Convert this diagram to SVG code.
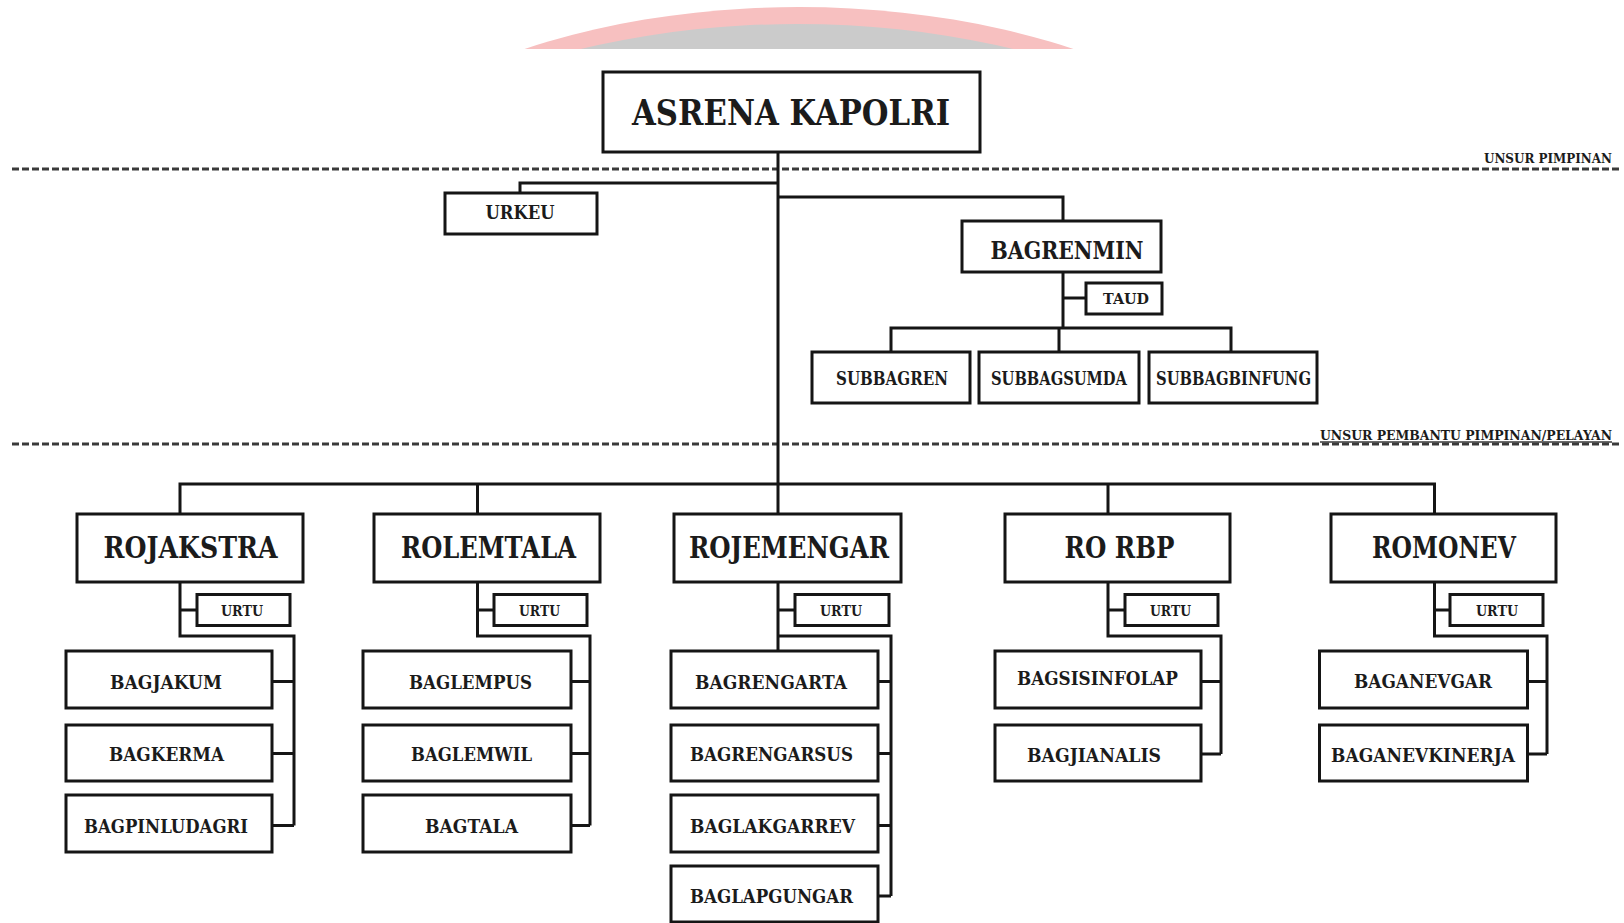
<svg xmlns="http://www.w3.org/2000/svg" width="1624" height="923" viewBox="0 0 1624 923">
<style>
.box{fill:#fff;stroke:#151515;stroke-width:3}
.ln{fill:none;stroke:#151515;stroke-width:3}
.dash{fill:none;stroke:#3a3a3a;stroke-width:3;stroke-dasharray:7 3}
text{font-family:"DejaVu Serif","Liberation Serif",serif;font-weight:bold;fill:#1b1b1b;text-anchor:middle}
.t1{font-size:36px}
.t2{font-size:30px}
.t3{font-size:19px}
.t4{font-size:14px}
.lab{font-size:12px;text-anchor:start}
</style>
<defs>
<clipPath id="topclip"><rect x="0" y="0" width="1624" height="49"/></clipPath>
<linearGradient id="grayfade" x1="0" y1="0" x2="1" y2="0">
<stop offset="0" stop-color="#cbcbcb" stop-opacity="0.7"/><stop offset="0.25" stop-color="#cbcbcb"/><stop offset="0.75" stop-color="#cbcbcb"/><stop offset="1" stop-color="#cbcbcb" stop-opacity="0.7"/>
</linearGradient>
</defs>
<rect width="1624" height="923" fill="#fff"/>
<g id="banner" clip-path="url(#topclip)">
<ellipse cx="799" cy="300" rx="532" ry="293" fill="#f7c0c0"/>
<ellipse cx="797" cy="300" rx="520" ry="276" fill="url(#grayfade)"/>
</g>
<g id="dividers">
<line class="dash" x1="12" y1="169" x2="1620" y2="169"/>
<line class="dash" x1="12" y1="444" x2="1620" y2="444"/>
<text class="lab" x="1484" y="163" textLength="128" lengthAdjust="spacingAndGlyphs">UNSUR PIMPINAN</text>
<text class="lab" x="1320" y="440" textLength="292" lengthAdjust="spacingAndGlyphs">UNSUR  PEMBANTU PIMPINAN/PELAYAN</text>
<line x1="1320" y1="442" x2="1612" y2="442" stroke="#3a3a3a" stroke-width="1.5"/>
</g>
<g id="connectors">
<path class="ln" d="M778 152V484"/>
<path class="ln" d="M778 183H520V193"/>
<path class="ln" d="M778 197H1063V221"/>
<path class="ln" d="M1063 272V328"/>
<path class="ln" d="M1063 298H1086"/>
<path class="ln" d="M891 352V328H1231V352M1059 328V352"/>
<path class="ln" d="M180 514V484H1434.5V514M477.5 484V514M778 484V514M1108 484V514"/>
<path class="ln" d="M180 582V636H294V825.5M180 610H197M272 681.5H294M272 753.5H294M272 825.5H294"/>
<path class="ln" d="M477.5 582V636H590V825.5M477.5 610H494M571 681.5H590M571 753.5H590M571 825.5H590"/>
<path class="ln" d="M778 582V651M778 636H891V896M778 610H795M878 681.5H891M878 753.5H891M878 825.5H891M878 896H891"/>
<path class="ln" d="M1108 582V636H1221V754M1108 610H1125M1201 681.5H1221M1201 754H1221"/>
<path class="ln" d="M1434.5 582V636H1547V754M1434.5 610H1450M1527 681.5H1547M1527 754H1547"/>
</g>
<g id="asrena"><rect class="box" x="603" y="72" width="377" height="80"/><text class="t1" x="791" y="125" textLength="318" lengthAdjust="spacingAndGlyphs">ASRENA KAPOLRI</text></g>
<g id="urkeu"><rect class="box" x="445" y="193" width="152" height="41"/><text class="t3" x="520" y="219" textLength="69" lengthAdjust="spacingAndGlyphs">URKEU</text></g>
<g id="bagrenmin"><rect class="box" x="962" y="221" width="199" height="51"/><text style="font-size:24px" x="1067" y="259" textLength="153" lengthAdjust="spacingAndGlyphs">BAGRENMIN</text></g>
<g id="taud"><rect class="box" x="1086" y="283" width="76" height="31"/><text style="font-size:15px" x="1126" y="304" textLength="46" lengthAdjust="spacingAndGlyphs">TAUD</text></g>
<g id="subbagren"><rect class="box" x="812" y="352" width="158" height="51"/><text style="font-size:18px" x="892" y="385" textLength="112" lengthAdjust="spacingAndGlyphs">SUBBAGREN</text></g>
<g id="subbagsumda"><rect class="box" x="979" y="352" width="160" height="51"/><text style="font-size:18px" x="1059" y="385" textLength="136" lengthAdjust="spacingAndGlyphs">SUBBAGSUMDA</text></g>
<g id="subbagbinfung"><rect class="box" x="1149" y="352" width="168" height="51"/><text style="font-size:18px" x="1233.5" y="385" textLength="155" lengthAdjust="spacingAndGlyphs">SUBBAGBINFUNG</text></g>

<g id="rojakstra"><rect class="box" x="77" y="514" width="226" height="68"/><text class="t2" x="190.5" y="558" textLength="174" lengthAdjust="spacingAndGlyphs">ROJAKSTRA</text></g>
<g id="rolemtala"><rect class="box" x="374" y="514" width="226" height="68"/><text class="t2" x="488.5" y="558" textLength="175" lengthAdjust="spacingAndGlyphs">ROLEMTALA</text></g>
<g id="rojemengar"><rect class="box" x="674" y="514" width="227" height="68"/><text class="t2" x="789" y="558" textLength="200" lengthAdjust="spacingAndGlyphs">ROJEMENGAR</text></g>
<g id="rorbp"><rect class="box" x="1005" y="514" width="225" height="68"/><text class="t2" x="1119.5" y="558" textLength="110" lengthAdjust="spacingAndGlyphs">RO RBP</text></g>
<g id="romonev"><rect class="box" x="1331" y="514" width="225" height="68"/><text class="t2" x="1444" y="558" textLength="144" lengthAdjust="spacingAndGlyphs">ROMONEV</text></g>

<g id="urtu1"><rect class="box" x="197" y="594.5" width="93" height="31"/><text class="t4" x="242" y="615.5" textLength="42" lengthAdjust="spacingAndGlyphs">URTU</text></g>
<g id="urtu2"><rect class="box" x="494" y="594.5" width="93" height="31"/><text class="t4" x="539.5" y="615.5" textLength="41" lengthAdjust="spacingAndGlyphs">URTU</text></g>
<g id="urtu3"><rect class="box" x="795" y="594.5" width="94" height="31"/><text class="t4" x="841" y="615.5" textLength="42" lengthAdjust="spacingAndGlyphs">URTU</text></g>
<g id="urtu4"><rect class="box" x="1125" y="594.5" width="93" height="31"/><text class="t4" x="1170.5" y="615.5" textLength="41" lengthAdjust="spacingAndGlyphs">URTU</text></g>
<g id="urtu5"><rect class="box" x="1450" y="594.5" width="93" height="31"/><text class="t4" x="1497" y="615.5" textLength="42" lengthAdjust="spacingAndGlyphs">URTU</text></g>

<g id="bagjakum"><rect class="box" x="66" y="651" width="206" height="57"/><text class="t3" x="166" y="688.5" textLength="112" lengthAdjust="spacingAndGlyphs">BAGJAKUM</text></g>
<g id="bagkerma"><rect class="box" x="66" y="725" width="206" height="56"/><text class="t3" x="166.5" y="761" textLength="115" lengthAdjust="spacingAndGlyphs">BAGKERMA</text></g>
<g id="bagpinludagri"><rect class="box" x="66" y="795" width="206" height="57"/><text class="t3" x="166" y="832.5" textLength="164" lengthAdjust="spacingAndGlyphs">BAGPINLUDAGRI</text></g>

<g id="baglempus"><rect class="box" x="363" y="651" width="208" height="57"/><text class="t3" x="470.5" y="688.5" textLength="123" lengthAdjust="spacingAndGlyphs">BAGLEMPUS</text></g>
<g id="baglemwil"><rect class="box" x="363" y="725" width="208" height="56"/><text class="t3" x="471.5" y="761" textLength="121" lengthAdjust="spacingAndGlyphs">BAGLEMWIL</text></g>
<g id="bagtala"><rect class="box" x="363" y="795" width="208" height="57"/><text class="t3" x="471.5" y="832.5" textLength="93" lengthAdjust="spacingAndGlyphs">BAGTALA</text></g>

<g id="bagrengarta"><rect class="box" x="671" y="651" width="207" height="57"/><text class="t3" x="771" y="688.5" textLength="152" lengthAdjust="spacingAndGlyphs">BAGRENGARTA</text></g>
<g id="bagrengarsus"><rect class="box" x="671" y="725" width="207" height="56"/><text class="t3" x="771.5" y="761" textLength="163" lengthAdjust="spacingAndGlyphs">BAGRENGARSUS</text></g>
<g id="baglakgarrev"><rect class="box" x="671" y="795" width="207" height="57"/><text class="t3" x="772.5" y="832.5" textLength="165" lengthAdjust="spacingAndGlyphs">BAGLAKGARREV</text></g>
<g id="baglapgungar"><rect class="box" x="671" y="866" width="207" height="56"/><text class="t3" x="771.5" y="903" textLength="163" lengthAdjust="spacingAndGlyphs">BAGLAPGUNGAR</text></g>

<g id="bagsisinfolap"><rect class="box" x="995" y="651" width="206" height="57"/><text class="t3" x="1097.5" y="685" textLength="161" lengthAdjust="spacingAndGlyphs">BAGSISINFOLAP</text></g>
<g id="bagjianalis"><rect class="box" x="995" y="725" width="206" height="56"/><text class="t3" x="1094" y="762" textLength="134" lengthAdjust="spacingAndGlyphs">BAGJIANALIS</text></g>

<g id="baganevgar"><rect class="box" x="1319.5" y="651" width="208" height="57"/><text class="t3" x="1423" y="687.5" textLength="138" lengthAdjust="spacingAndGlyphs">BAGANEVGAR</text></g>
<g id="baganevkinerja"><rect class="box" x="1319.5" y="725" width="208" height="56"/><text class="t3" x="1423" y="762" textLength="184" lengthAdjust="spacingAndGlyphs">BAGANEVKINERJA</text></g>
</svg>
